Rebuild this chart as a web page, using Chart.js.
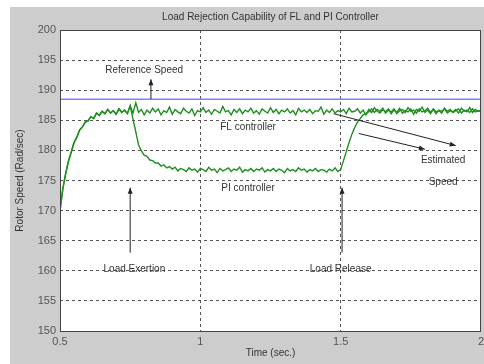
<!DOCTYPE html>
<html>
<head>
<meta charset="utf-8">
<script src="https://cdn.jsdelivr.net/npm/chart.js@4/dist/chart.umd.min.js"></script>
<style>
  html, body { margin: 0; padding: 0; background: #fff; }
  #wrap { width: 484px; height: 364px; }
</style>
</head>
<body>
<div id="wrap"><canvas id="c" width="484" height="364"></canvas></div>
<script>
// Load rejection: FL vs PI controller speed response
const T_START = 0.5;
const T_STEP = 0.01;
const REF_SPEED = 188.5;
const xTicks = [0.5, 1, 1.5, 2];

// estimated speed, FL controller (t = 0.50 .. 2.00)
const flSpeed = [
  170.0, 173.6, 176.1, 178.2, 179.7, 181.3, 182.2, 183.4, 183.9, 184.7,
  184.9, 185.6, 185.3, 186.2, 185.8, 186.5, 186.1, 186.8, 186.2, 186.6,
  186.0, 186.9, 186.3, 186.7, 186.1, 187.4, 186.2, 187.9, 186.3, 186.8,
  185.9, 186.7, 186.2, 187.0, 186.4, 186.9, 185.9, 186.6, 186.3, 187.2,
  186.0, 186.8, 186.4, 186.1, 187.0, 186.5, 186.2, 186.9, 185.8, 186.6,
  186.4, 187.1, 186.3, 186.7, 186.0, 186.8, 186.5, 186.2, 187.3, 186.4,
  186.6, 185.9, 186.8, 186.3, 186.9, 186.1, 186.7, 186.4, 187.0, 186.2,
  186.6, 186.0, 186.9, 186.5, 186.2, 187.1, 186.3, 186.8, 186.1, 186.7,
  186.4, 186.9, 186.2, 186.6, 185.9, 187.0, 186.4, 186.7, 186.3, 186.8,
  186.1, 186.6, 186.5, 187.2, 186.0, 186.7, 186.3, 186.9, 186.2, 186.6,
  186.4, 186.8, 186.1, 187.0, 186.4, 186.5, 186.9, 186.2, 186.7, 185.9,
  186.8, 186.3, 187.1, 186.5, 186.2, 186.8, 186.4, 186.9, 186.1, 186.7,
  186.3, 187.0, 186.2, 186.6, 186.4, 186.9, 186.0, 186.8, 186.5, 187.2,
  186.3, 186.7, 186.1, 186.9, 186.4, 186.6, 186.2, 187.0, 186.5, 186.8,
  186.3, 186.6, 186.9, 186.2, 186.7, 186.4, 187.1, 186.3, 186.8, 186.5,
  186.6
];

// estimated speed, PI controller (t = 0.50 .. 2.00)
const piSpeed = [
  170.0, 173.6, 176.1, 178.2, 179.7, 181.3, 182.2, 183.4, 183.9, 184.7,
  184.9, 185.6, 185.3, 186.2, 185.8, 186.5, 186.1, 186.8, 186.2, 186.6,
  186.0, 186.9, 186.3, 186.7, 186.1, 187.4, 185.2, 183.1, 180.9, 179.9,
  179.2, 179.0, 178.4, 178.3, 177.9, 177.9, 177.4, 177.6, 177.1, 177.3,
  176.9, 177.2, 176.6, 177.0, 176.8, 176.5, 177.1, 176.7, 176.9, 176.4,
  177.0, 176.8, 176.5, 177.2, 176.7, 176.9, 176.3, 177.0, 176.6, 176.8,
  177.1, 176.5, 176.9, 176.7, 177.2, 176.4, 176.8, 176.6, 177.0, 176.5,
  176.9, 176.7, 177.1, 176.4, 176.8, 176.6, 177.0, 176.5, 176.9, 176.7,
  176.3, 177.0, 176.6, 176.8, 176.5, 177.1, 176.7, 176.9, 176.4, 176.8,
  176.6, 177.0, 176.5, 176.8, 176.7, 176.4, 176.9, 176.6, 177.1, 176.5,
  176.8, 178.3, 179.8, 181.3, 182.7, 183.8, 184.7, 185.3, 185.9, 186.1,
  186.4, 186.9, 186.3, 186.8, 186.5, 187.0, 186.2, 186.7, 186.4, 186.9,
  186.1, 186.6, 186.8, 186.3, 187.1, 186.5, 186.7, 186.2, 186.9, 186.4,
  186.6, 187.0, 186.3, 186.8, 186.1, 186.7, 186.5, 186.9, 186.2, 186.6,
  186.4, 186.8, 186.2, 187.0, 186.5, 186.7, 186.3, 186.9, 186.4, 186.6,
  186.5
];

// text labels in data units
const notes = [
  { text: 'Reference Speed', x: 0.80, y: 193.3 },
  { text: 'FL controller', x: 1.17, y: 183.9 },
  { text: 'PI controller', x: 1.17, y: 173.7 },
  { text: 'Load Exertion', x: 0.765, y: 160.3 },
  { text: 'Load Release', x: 1.50, y: 160.3 },
  { text: 'Estimated', x: 1.865, y: 178.4 },
  { text: 'Speed', x: 1.865, y: 174.7 },
];

// arrows: [x0, y0, x1, y1], head at (x1, y1)
const arrows = [
  [0.824, 188.5, 0.824, 191.8],
  [0.75, 163.0, 0.75, 173.8],
  [1.505, 163.0, 1.505, 173.8],
  [1.565, 182.8, 1.80, 180.2],
  [1.475, 186.1, 1.91, 180.8],
];

const GREEN = '#1f8f1f';
const REF_BLUE = '#8080ff';
const TEXT = '#333333';
const FONT = "'Liberation Sans', Arial, sans-serif";

const toPoints = arr => arr.map((v, i) => ({ x: T_START + i * T_STEP, y: v }));
const edgeGrid = c => (c.index === 0 || c.index === c.chart.scales[c.scale.id].ticks.length - 1)
  ? 'rgba(0,0,0,0)' : '#555';

const figure = {
  id: 'figure',
  beforeDraw(chart) {
    const ctx = chart.ctx;
    const a = chart.chartArea;
    ctx.save();
    ctx.fillStyle = '#cdcdcd';
    ctx.fillRect(10, 7, chart.width - 10, chart.height - 7);
    ctx.fillStyle = '#ffffff';
    ctx.fillRect(a.left, a.top, a.right - a.left, a.bottom - a.top);
    ctx.restore();
  },
  afterDraw(chart) {
    const ctx = chart.ctx;
    const a = chart.chartArea;
    const xs = chart.scales.x, ys = chart.scales.y;
    ctx.save();
    ctx.strokeStyle = '#444';
    ctx.lineWidth = 1;
    ctx.strokeRect(a.left + 0.5, a.top + 0.5, a.right - a.left - 1, a.bottom - a.top);

    ctx.fillStyle = TEXT;
    ctx.font = '10px ' + FONT;
    ctx.textAlign = 'center';
    ctx.textBaseline = 'middle';
    ctx.fillText('Load Rejection Capability of FL and PI Controller', (a.left + a.right) / 2, 17);

    for (const n of notes) {
      ctx.fillText(n.text, xs.getPixelForValue(n.x), ys.getPixelForValue(n.y));
    }

    ctx.strokeStyle = '#222';
    ctx.fillStyle = '#222';
    for (const [x0, y0, x1, y1] of arrows) {
      const px0 = xs.getPixelForValue(x0), py0 = ys.getPixelForValue(y0);
      const px1 = xs.getPixelForValue(x1), py1 = ys.getPixelForValue(y1);
      const ang = Math.atan2(py1 - py0, px1 - px0);
      ctx.beginPath();
      ctx.moveTo(px0, py0);
      ctx.lineTo(px1, py1);
      ctx.stroke();
      ctx.beginPath();
      ctx.moveTo(px1, py1);
      ctx.lineTo(px1 - 6 * Math.cos(ang) + 2.5 * Math.sin(ang), py1 - 6 * Math.sin(ang) - 2.5 * Math.cos(ang));
      ctx.lineTo(px1 - 6 * Math.cos(ang) - 2.5 * Math.sin(ang), py1 - 6 * Math.sin(ang) + 2.5 * Math.cos(ang));
      ctx.closePath();
      ctx.fill();
    }
    ctx.restore();
  },
};

new Chart(document.getElementById('c'), {
  type: 'line',
  data: {
    datasets: [
      {
        label: 'Reference Speed',
        data: [{ x: 0.5, y: REF_SPEED }, { x: 2, y: REF_SPEED }],
        borderColor: REF_BLUE,
        borderWidth: 1.5,
        pointRadius: 0,
      },
      {
        label: 'PI controller',
        data: toPoints(piSpeed),
        borderColor: GREEN,
        borderWidth: 1.4,
        pointRadius: 0,
        tension: 0,
      },
      {
        label: 'FL controller',
        data: toPoints(flSpeed),
        borderColor: GREEN,
        borderWidth: 1.4,
        pointRadius: 0,
        tension: 0,
      },
    ],
  },
  options: {
    responsive: false,
    animation: false,
    layout: { padding: { left: 10, top: 30, right: 3, bottom: 0 } },
    plugins: {
      legend: { display: false },
      tooltip: { enabled: false },
      title: { display: false },
    },
    scales: {
      x: {
        type: 'linear',
        min: 0.5,
        max: 2,
        afterBuildTicks: s => { s.ticks = xTicks.map(v => ({ value: v })); },
        afterFit: s => { s.height = 33; s.paddingLeft = 0; s.paddingRight = 0; },
        ticks: { color: '#555', font: { family: FONT, size: 11 }, padding: 4, maxRotation: 0,
          callback: v => String(v) },
        grid: { color: edgeGrid, drawTicks: false, lineWidth: 1 },
        border: { display: false, dash: [3, 3] },
        title: { display: true, text: 'Time (sec.)', color: TEXT,
          font: { family: FONT, size: 10 }, padding: { top: 0, bottom: 5 } },
      },
      y: {
        min: 150,
        max: 200,
        ticks: { stepSize: 5, color: '#555', font: { family: FONT, size: 11 }, padding: 4 },
        afterFit: s => { s.width = 50; s.paddingTop = 0; s.paddingBottom = 0; },
        grid: { color: edgeGrid, drawTicks: false, lineWidth: 1 },
        border: { display: false, dash: [3, 3] },
        title: { display: true, text: 'Rotor Speed (Rad/sec)', color: TEXT,
          font: { family: FONT, size: 10 }, padding: { top: 4, bottom: 0 } },
      },
    },
  },
  plugins: [figure],
});
</script>
</body>
</html>
